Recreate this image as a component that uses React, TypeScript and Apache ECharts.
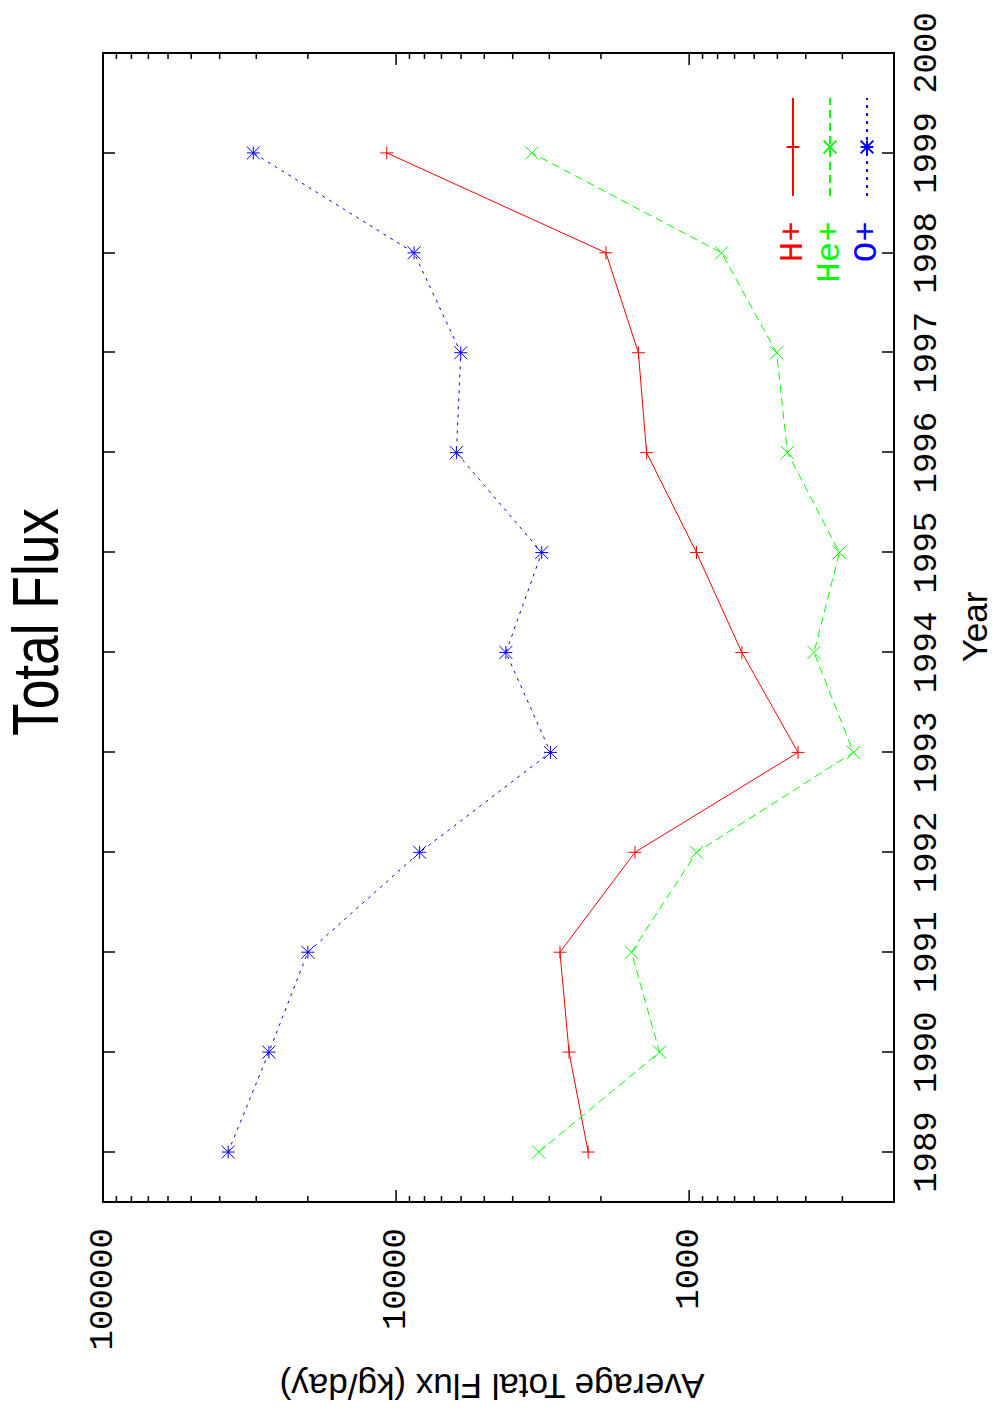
import React, { useEffect, useRef } from "react";
import * as echarts from "echarts";

const years = [1989, 1990, 1991, 1992, 1993, 1994, 1995, 1996, 1997, 1998, 1999];
const hPlus = [2211, 2569, 2759, 1531, 425, 661, 944, 1397, 1490, 1923, 10760];
const hePlus = [3260, 1262, 1573, 944, 275, 375, 307, 462, 503, 775, 3441];
const oPlus = [37400, 27150, 20000, 8307, 2973, 4220, 3184, 6226, 6015, 8682, 30700];

const yearTicks = [1989, 1990, 1991, 1992, 1993, 1994, 1995, 1996, 1997, 1998, 1999, 2000];
const fluxMajorTicks = [1000, 10000, 100000];
const fluxMinorTicks = [
  300, 400, 500, 600, 700, 800, 900,
  2000, 3000, 4000, 5000, 6000, 7000, 8000, 9000,
  20000, 30000, 40000, 50000, 60000, 70000, 80000, 90000,
];

const X_MIN = 1988.5;
const X_MAX = 2000;
const Y_MIN = 200;
const Y_MAX = 100000;

const MONO = '"Liberation Mono", "DejaVu Sans Mono", monospace';
const SANS = '"Liberation Sans", Arial, sans-serif';

const SYM_PLUS = "path://M0,5L10,5M5,0L5,10";
const SYM_CROSS = "path://M0,0L10,10M10,0L0,10";
const SYM_STAR = "path://M0,5L10,5M5,0L5,10M0,0L10,10M10,0L0,10";

export default function App() {
  const ref = useRef<HTMLDivElement>(null);

  useEffect(() => {
    if (!ref.current) return;
    const chart = echarts.init(ref.current, null, { renderer: "svg" });

    const mkSeries = (name: string, vals: number[], color: string, symbol: string, dash: any) => ({
      name,
      type: "line",
      data: years.map((y, i) => [y, vals[i]]),
      symbol,
      symbolSize: 13,
      showAllSymbol: true,
      lineStyle: { color, width: 1, type: dash },
      itemStyle: { color, borderColor: color, borderWidth: 1 },
      emphasis: { disabled: true },
    });

    const tickData = [
      ...fluxMajorTicks.map((v) => [X_MIN, v, 1]),
      ...fluxMinorTicks.map((v) => [X_MIN, v, 0]),
    ];

    const option: any = {
      animation: false,
      backgroundColor: "#fff",
      grid: {
        left: 218,
        right: 53,
        top: 103,
        bottom: 106,
        show: true,
        borderColor: "#000",
        borderWidth: 2,
        backgroundColor: "transparent",
      },
      xAxis: [
        {
          type: "value",
          min: X_MIN,
          max: X_MAX,
          position: "bottom",
          axisLine: { show: false },
          splitLine: { show: false },
          axisTick: {
            show: true,
            inside: true,
            length: 12,
            lineStyle: { color: "#000", width: 1.5 },
            customValues: yearTicks,
          },
          axisLabel: {
            show: true,
            customValues: yearTicks,
            formatter: (v: number) => String(v),
            fontFamily: MONO,
            fontSize: 34,
            color: "#000",
            margin: 16,
          },
        },
        {
          type: "value",
          min: X_MIN,
          max: X_MAX,
          position: "top",
          axisLine: { show: false },
          splitLine: { show: false },
          axisTick: {
            show: true,
            inside: true,
            length: 12,
            lineStyle: { color: "#000", width: 1.5 },
            customValues: yearTicks,
          },
          axisLabel: { show: false },
        },
      ],
      yAxis: [
        {
          type: "log",
          logBase: 10,
          min: Y_MIN,
          max: Y_MAX,
          axisLine: { show: false },
          axisTick: { show: false },
          axisLabel: { show: false },
          splitLine: { show: false },
        },
      ],
      legend: {
        orient: "vertical",
        right: 97,
        top: 776,
        padding: 0,
        align: "right",
        itemWidth: 98,
        itemHeight: 16,
        itemGap: 3,
        formatter: (name: string) => name + "\u00a0",
        textStyle: { fontFamily: MONO, fontSize: 34, lineHeight: 16 },
        data: [
          { name: "H+", textStyle: { color: "#ff0000" } },
          { name: "He+", textStyle: { color: "#00ff00" } },
          { name: "O+", textStyle: { color: "#0000ff" } },
        ],
      },
      graphic: [
        {
          type: "text",
          x: 798,
          y: 36,
          scaleX: 0.82,
          style: {
            text: "Total Flux",
            font: "65px " + SANS,
            fill: "#000",
            align: "center",
            verticalAlign: "middle",
            textAlign: "center",
            textVerticalAlign: "middle",
          },
        },
        {
          type: "text",
          x: 34,
          y: 492,
          rotation: Math.PI / 2,
          style: {
            text: "Average Total Flux (kg/day)",
            font: "35px " + SANS,
            fill: "#000",
            align: "center",
            verticalAlign: "middle",
            textAlign: "center",
            textVerticalAlign: "middle",
          },
        },
        {
          type: "text",
          x: 793,
          y: 974,
          style: {
            text: "Year",
            font: "35px " + SANS,
            fill: "#000",
            align: "center",
            verticalAlign: "middle",
            textAlign: "center",
            textVerticalAlign: "middle",
          },
        },
      ],
      series: [
        mkSeries("H+", hPlus, "#ff0000", SYM_PLUS, "solid"),
        mkSeries("He+", hePlus, "#00ff00", SYM_CROSS, [8, 5]),
        mkSeries("O+", oPlus, "#0000ff", SYM_STAR, [3, 5]),
        {
          type: "custom",
          name: "fluxTicks",
          data: tickData,
          encode: { x: 0, y: 1 },
          silent: true,
          clip: false,
          z: 10,
          renderItem: (params: any, api: any) => {
            const v = api.value(1);
            const major = api.value(2) === 1;
            const l = api.coord([X_MIN, v]);
            const r = api.coord([X_MAX, v]);
            const len = major ? 12 : 6;
            const st = { stroke: "#000", lineWidth: 1.5 };
            const children: any[] = [
              { type: "line", shape: { x1: l[0], y1: l[1], x2: l[0] + len, y2: l[1] }, style: st },
              { type: "line", shape: { x1: r[0] - len, y1: r[1], x2: r[0], y2: r[1] }, style: st },
            ];
            if (major) {
              children.push({
                type: "text",
                x: l[0] - 26,
                y: l[1],
                style: {
                  text: String(v),
                  font: "34px " + MONO,
                  fill: "#000",
                  align: "right",
                  verticalAlign: "middle",
                  textAlign: "right",
                  textVerticalAlign: "middle",
                },
              });
            }
            return { type: "group", children };
          },
        },
      ],
    };

    chart.setOption(option);
    return () => chart.dispose();
  }, []);

  return (
    <div
      style={{
        position: "absolute",
        left: 0,
        top: 0,
        width: 1000,
        height: 1420,
        overflow: "hidden",
        background: "#fff",
      }}
    >
      <div
        ref={ref}
        style={{
          position: "absolute",
          left: -210,
          top: 210,
          width: 1420,
          height: 1000,
          transform: "rotate(-90deg)",
          transformOrigin: "center center",
        }}
      />
    </div>
  );
}
